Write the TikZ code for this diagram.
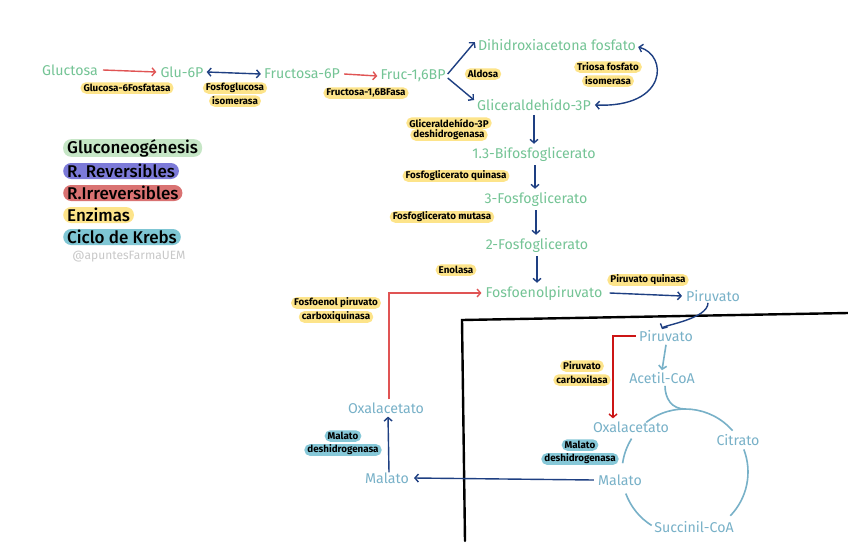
\documentclass[tikz,border=0pt]{standalone}
\usepackage{fontspec}
\setmainfont{Fira Sans}
\newfontfamily\medfont{Fira Sans Medium}
\usetikzlibrary{arrows.meta,shapes.misc,calc}
\definecolor{gtext}{HTML}{74C495}
\definecolor{ktext}{HTML}{78B1C8}
\definecolor{navy}{HTML}{1E3F82}
\definecolor{redA}{HTML}{E05454}
\definecolor{redB}{HTML}{CC1515}
\definecolor{yel}{HTML}{FDE48A}
\definecolor{cyl}{HTML}{86C8D8}
\definecolor{lgreen}{HTML}{C6E6C6}
\definecolor{lpurple}{HTML}{7C7AD8}
\definecolor{lred}{HTML}{D97272}
\definecolor{lcyan}{HTML}{7FC6D4}
\definecolor{wm}{HTML}{C8C8C8}
\begin{document}
\begin{tikzpicture}[x=1pt,y=1pt,
  met/.style={text=gtext,font=\fontsize{14.2}{16}\selectfont,inner sep=1pt},
  kmet/.style={met,text=ktext},
  enz/.style={rectangle,rounded corners=5.5pt,fill=yel,font=\fontsize{9.8}{11}\selectfont\bfseries,inner xsep=3pt,inner ysep=0.8pt,minimum height=11.5pt},
  kenz/.style={enz,fill=cyl},
  leg/.style={rectangle,rounded corners=8pt,font=\medfont\fontsize{17}{19}\selectfont,inner xsep=4pt,inner ysep=0pt,minimum height=16pt},
  barb/.tip={Straight Barb[length=3.5pt,width=8pt]},
  tip/.style={-barb},
  dtip/.style={barb-barb},
  blu/.style={draw=navy,line width=1.4pt,tip},
  red/.style={draw=redA,line width=1.4pt,tip},
  redd/.style={draw=redB,line width=1.4pt,tip},
  kline/.style={draw=ktext,line width=1.6pt},
]
\useasboundingbox (0,0) rectangle (848,-549);
\fill[white] (0,0) rectangle (848,-549);

% legend
\node[leg,fill=lgreen,anchor=west] (l1) at (63,-148) {Gluconeogénesis};
\node[leg,fill=lpurple,anchor=west] (l2) at (63,-171) {R. Reversibles};
\node[leg,fill=lred,anchor=west] (l3) at (63,-193) {R.Irreversibles};
\node[leg,fill=yel,anchor=west] (l4) at (63,-215) {Enzimas};
\node[leg,fill=lcyan,anchor=west] (l5) at (63,-237) {Ciclo de Krebs};
\node[text=wm,font=\fontsize{12}{13}\selectfont] (wm) at (129,-257) {@apuntesFarmaUEM};

% metabolites
\node[met] (glc) at (70,-70) {Gluctosa};
\node[met] (g6p) at (182,-72) {Glu-6P};
\node[met] (f6p) at (302,-74) {Fructosa-6P};
\node[met] (fbp) at (413,-76) {Fruc-1,6BP};
\node[met] (dha) at (557,-45) {Dihidroxiacetona fosfato};
\node[met] (g3p) at (534,-105) {Gliceraldehído-3P};
\node[met] (bpg) at (534,-154) {1.3-Bifosfoglicerato};
\node[met] (pg3) at (536,-199) {3-Fosfoglicerato};
\node[met] (pg2) at (537,-245) {2-Fosfoglicerato};
\node[met] (pep) at (544,-293) {Fosfoenolpiruvato};
\node[kmet] (pyr1) at (713,-296) {Piruvato};
\node[kmet] (pyr2) at (666,-336) {Piruvato};
\node[kmet] (acc) at (662,-378) {Acetil-CoA};
\node[kmet] (oaa2) at (631,-427) {Oxalacetato};
\node[kmet] (cit) at (738,-440) {Citrato};
\node[kmet] (mal2) at (620,-480) {Malato};
\node[kmet] (suc) at (694,-527) {Succinil-CoA};
\node[kmet] (mal1) at (387,-478) {Malato};
\node[kmet] (oaa1) at (386,-408) {Oxalacetato};

% enzymes
\node[enz] (e1) at (127,-88) {Glucosa-6Fosfatasa};
\node[enz] (e2a) at (235,-88) {Fosfoglucosa};
\node[enz] (e2b) at (235,-101) {isomerasa};
\node[enz] (e3) at (366,-93) {Fructosa-1,6BFasa};
\node[enz] (e4) at (483,-74) {Aldosa};
\node[enz] (e5a) at (608,-67) {Triosa fosfato};
\node[enz] (e5b) at (608,-81) {isomerasa};
\node[enz] (e6a) at (449,-123) {Gliceraldehído-3P};
\node[enz] (e6b) at (449,-135) {deshidrogenasa};
\node[enz] (e7) at (456,-176) {Fosfoglicerato quinasa};
\node[enz] (e8) at (442,-217) {Fosfoglicerato mutasa};
\node[enz] (e9) at (456,-270) {Enolasa};
\node[enz] (e10) at (648,-280) {Piruvato quinasa};
\node[enz] (e11a) at (336,-303) {Fosfoenol piruvato};
\node[enz] (e11b) at (336,-317) {carboxiquinasa};
\node[enz] (e12a) at (582,-366) {Piruvato};
\node[enz] (e12b) at (582,-380) {carboxilasa};
\node[kenz] (e13a) at (343,-436) {Malato};
\node[kenz] (e13b) at (343,-450) {deshidrogenasa};
\node[kenz] (e14a) at (580,-445) {Malato};
\node[kenz] (e14b) at (580,-459) {deshidrogenasa};

% mitochondrion wall
\draw[line width=2.4pt,line cap=round] (848,-313) -- (462,-320) -- (465,-541);

% connectors
\draw[red] ([xshift=4pt]glc.east) -- ([xshift=-3pt]g6p.west);
\draw[blu,dtip] ([xshift=2pt]g6p.east) -- ([xshift=-2pt]f6p.west);
\draw[red] ([xshift=3pt]f6p.east) -- ([xshift=-2pt]fbp.west);
\draw[blu] ([xshift=1pt,yshift=2pt]fbp.east) -- ([xshift=-2pt,yshift=3pt]dha.west);
\draw[blu] ([xshift=1pt,yshift=-2pt]fbp.east) -- ([xshift=-2pt,yshift=5pt]g3p.west);
\draw[blu,dtip] ([xshift=1pt,yshift=-2pt]dha.east) .. controls (668,-55) and (668,-108) .. ([xshift=3pt]g3p.east);
\draw[blu] ([yshift=-3pt]g3p.south) -- ([yshift=2pt]g3p.south |- bpg.north);
\draw[blu] ([xshift=1pt,yshift=-3pt]bpg.south) -- ([xshift=1pt,yshift=2pt]bpg.south |- pg3.north);
\draw[blu] ([yshift=-3pt]pg3.south) -- ([yshift=2pt]pg3.south |- pg2.north);
\draw[blu] ([yshift=-3pt]pg2.south) -- ([yshift=2pt]pg2.south |- pep.north);
\draw[blu] ([xshift=6pt]pep.east) -- ([xshift=-3pt]pyr1.west);
\draw[blu] ([xshift=-5pt]pyr1.south) .. controls ([xshift=-5pt,yshift=-16pt]pyr1.south) and ($(pyr2.north)+(-2,4)$) .. ($(pyr2.north)+(-4,0)$);
\draw[kline,tip] ([yshift=-2pt]pyr2.south) -- ([yshift=1pt]acc.north);
\draw[redd] ([xshift=-2pt]pyr2.west) -| ($(oaa2.north)+(-18,2)$);
\draw[kline] ($(acc.south)+(3,-1)$) .. controls ($(acc.south)+(3,-14)$) and (672,-409) .. (685,-409);
\draw[kline] (685,-472) ++(41:63) arc[start angle=41,end angle=128,radius=63];
\draw[kline] (685,-472) ++(148:63) arc[start angle=148,end angle=172,radius=63];
\draw[kline] (685,-472) ++(200:63) arc[start angle=200,end angle=238,radius=63];
\draw[kline] (685,-472) ++(316:63) arc[start angle=316,end angle=381,radius=63];
\draw[blu] ([xshift=-3pt]mal2.west) -- ([xshift=4pt]mal1.east);
\draw[blu] ([xshift=2pt,yshift=-1pt]mal1.north) -- ([xshift=2pt,yshift=-2pt]oaa1.south);
\draw[red] ([xshift=3pt,yshift=2pt]oaa1.north) |- ([xshift=-3pt]pep.west);
\end{tikzpicture}
\end{document}
